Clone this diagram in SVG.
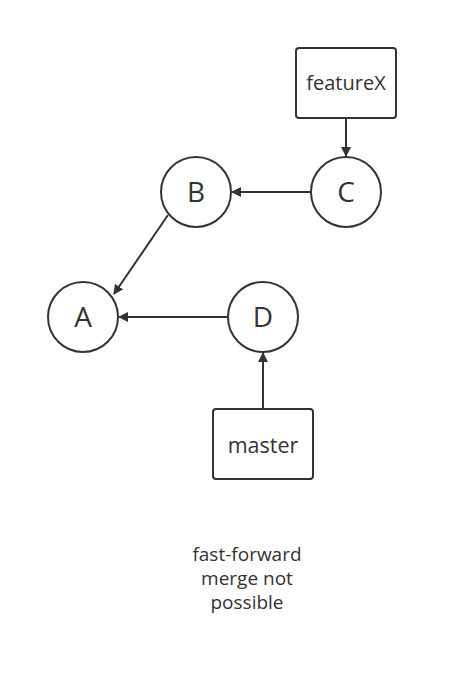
<svg xmlns="http://www.w3.org/2000/svg" width="458" height="674" viewBox="0 0 458 674">
<style>
.node{fill:#fff;stroke:#333;stroke-width:2}
.lbl{font-family:"Open Sans","Noto Sans","DejaVu Sans",sans-serif;fill:#333;text-anchor:middle}
.big{font-size:28px}
.box{font-size:20px}
.edge{stroke:#333;stroke-width:2;fill:none;marker-end:url(#arr)}
</style>
<defs>
<marker id="arr" markerWidth="10" markerHeight="10" refX="9" refY="5" orient="auto" markerUnits="userSpaceOnUse">
<path d="M0,0 L10,5 L0,10 Z" fill="#333"/>
</marker>
</defs>
<rect width="458" height="674" fill="#fff"/>
<g id="connectors">
<line class="edge" x1="346" y1="118" x2="346" y2="156"/>
<line class="edge" x1="311" y1="192" x2="232" y2="192"/>
<line class="edge" x1="168" y1="215" x2="114" y2="294"/>
<line class="edge" x1="228" y1="317" x2="119" y2="317"/>
<line class="edge" x1="263" y1="409" x2="263" y2="353"/>
</g>
<g id="featureX"><rect class="node" x="296" y="48" width="100" height="70" rx="3"/><text class="lbl box" x="346" y="90">featureX</text></g>
<g id="C"><circle class="node" cx="346" cy="192" r="35"/><text class="lbl big" x="346" y="202">C</text></g>
<g id="B"><circle class="node" cx="196" cy="192" r="35"/><text class="lbl big" x="196" y="202">B</text></g>
<g id="A"><circle class="node" cx="83" cy="317" r="35"/><text class="lbl big" x="83" y="327">A</text></g>
<g id="D"><circle class="node" cx="263" cy="317" r="35"/><text class="lbl big" x="263" y="327">D</text></g>
<g id="master"><rect class="node" x="213" y="409" width="100" height="70" rx="3"/><text class="lbl" style="font-size:21.5px" x="263" y="453">master</text></g>
<g id="caption"><text class="lbl" style="font-size:19px" x="247"><tspan x="247" y="561">fast-forward</tspan><tspan x="247" y="585">merge not</tspan><tspan x="247" y="609">possible</tspan></text></g>
</svg>
